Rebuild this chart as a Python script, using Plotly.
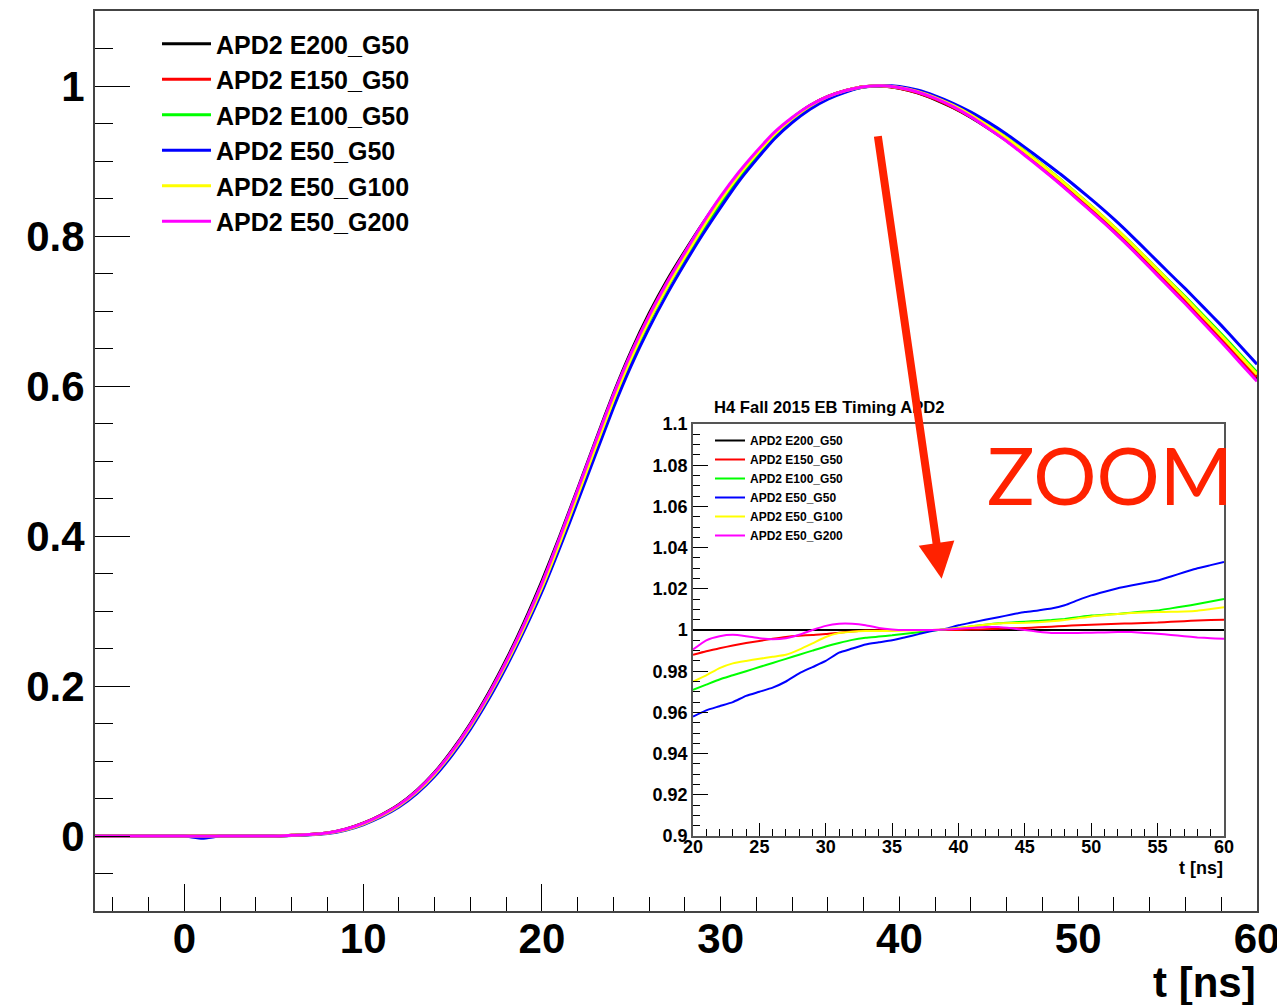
import plotly.graph_objects as go

# ---------------- data ----------------
t_main = list(range(-5, 61))  # ns

e200_g50 = [0, 0, 0, 0, 0, 0, 0, 0, 0, 0, 0,
            0.001, 0.002, 0.004, 0.009, 0.017, 0.028, 0.042, 0.061, 0.085, 0.115,
            0.150, 0.190, 0.235, 0.285,
            0.340, 0.400, 0.463, 0.527, 0.590, 0.647, 0.697, 0.741, 0.780, 0.817,
            0.851, 0.882, 0.910, 0.936, 0.957, 0.974, 0.986, 0.994, 0.999, 1.000,
            0.997, 0.991, 0.982, 0.971, 0.958, 0.943, 0.927, 0.909, 0.890, 0.870,
            0.849, 0.828, 0.806, 0.783, 0.759, 0.735, 0.711, 0.686, 0.661, 0.635,
            0.609]
e150_g50 = [0, 0, 0, 0, 0, 0, 0, 0, 0, 0, 0,
            0.001, 0.002, 0.004, 0.0088, 0.0167, 0.0276, 0.0413, 0.0600, 0.0838, 0.1134,
            0.1480, 0.1876, 0.2320, 0.2816,
            0.3359, 0.3959, 0.4589, 0.5230, 0.5863, 0.6436, 0.6940, 0.7385, 0.7778, 0.8150,
            0.8493, 0.8809, 0.9094, 0.9357, 0.9569, 0.9740, 0.9860, 0.9940, 0.9990, 1.0000,
            0.9970, 0.9912, 0.9824, 0.9716, 0.9588, 0.9439, 0.9282, 0.9105, 0.8918, 0.8720,
            0.8512, 0.8303, 0.8084, 0.7855, 0.7616, 0.7376, 0.7138, 0.6889, 0.6640, 0.6380,
            0.6120]
e100_g50 = [0, 0, 0, 0, 0, 0, 0, 0, 0, 0, 0,
            0.0008, 0.0018, 0.0036, 0.0082, 0.0157, 0.0263, 0.0399, 0.0583, 0.0818, 0.1112,
            0.1453, 0.1845, 0.2285, 0.2770,
            0.3301, 0.3894, 0.4519, 0.5154, 0.5782, 0.6354, 0.6858, 0.7306, 0.7706, 0.8088,
            0.8442, 0.8764, 0.9056, 0.9324, 0.9539, 0.9715, 0.9842, 0.9929, 0.9986, 1.0003,
            0.9980, 0.9928, 0.9846, 0.9742, 0.9615, 0.9468, 0.9311, 0.9134, 0.8948, 0.8754,
            0.8549, 0.8341, 0.8123, 0.7896, 0.7658, 0.7420, 0.7185, 0.6939, 0.6693, 0.6438,
            0.6181]
e50_g50 = [0, 0, 0, 0, 0, 0, -0.003, 0, 0, 0, 0,
           0.0007, 0.0016, 0.0033, 0.0077, 0.0150, 0.0253, 0.0386, 0.0565, 0.0796, 0.1086,
           0.1425, 0.1815, 0.2252, 0.2734,
           0.3257, 0.3844, 0.4459, 0.5086, 0.5711, 0.6276, 0.6775, 0.7225, 0.7636, 0.8023,
           0.8382, 0.8723, 0.9018, 0.9294, 0.9513, 0.9691, 0.9825, 0.9920, 0.9985, 1.0005,
           0.9993, 0.9946, 0.9869, 0.9770, 0.9652, 0.9512, 0.9358, 0.9185, 0.9007, 0.8826,
           0.8633, 0.8434, 0.8224, 0.7999, 0.7763, 0.7526, 0.7295, 0.7052, 0.6808, 0.6550,
           0.6291]
e50_g100 = [0, 0, 0, 0, 0, 0, 0, 0, 0, 0, 0,
            0.0009, 0.0019, 0.0037, 0.0084, 0.0160, 0.0267, 0.0404, 0.0588, 0.0825, 0.1120,
            0.1462, 0.1855, 0.2295, 0.2782,
            0.3315, 0.3912, 0.4544, 0.5185, 0.5812, 0.6379, 0.6879, 0.7321, 0.7726, 0.8117,
            0.8481, 0.8807, 0.9093, 0.9355, 0.9565, 0.9735, 0.9857, 0.9939, 0.9990, 1.0004,
            0.9980, 0.9928, 0.9846, 0.9741, 0.9613, 0.9463, 0.9305, 0.9128, 0.8943, 0.8750,
            0.8546, 0.8340, 0.8123, 0.7894, 0.7655, 0.7414, 0.7173, 0.6922, 0.6672, 0.6415,
            0.6157]
e50_g200 = [0, 0, 0, 0, 0, 0, 0, 0, 0, 0, 0,
            0.001, 0.002, 0.004, 0.0089, 0.0168, 0.0277, 0.0415, 0.0603, 0.0842, 0.1138,
            0.1485, 0.1881, 0.2327, 0.2822,
            0.3368, 0.3980, 0.4616, 0.5258, 0.5882, 0.6444, 0.6939, 0.7380, 0.7782, 0.8170,
            0.8527, 0.8846, 0.9127, 0.9382, 0.9580, 0.9743, 0.9860, 0.9940, 0.9990, 1.0002,
            0.9976, 0.9920, 0.9834, 0.9724, 0.9588, 0.9430, 0.9263, 0.9077, 0.8887, 0.8688,
            0.8479, 0.8270, 0.8052, 0.7822, 0.7579, 0.7337, 0.7093, 0.6839, 0.6586, 0.6325,
            0.6064]

# zoom (ratio to APD2 E200_G50), t = 20 ... 60 ns
t_zoom = list(range(20, 61))
r_e200_g50 = [1.0, 1.0, 1.0, 1.0, 1.0, 1.0, 1.0, 1.0, 1.0, 1.0,
              1.0, 1.0, 1.0, 1.0, 1.0, 1.0, 1.0, 1.0, 1.0, 1.0,
              1.0, 1.0, 1.0, 1.0, 1.0, 1.0, 1.0, 1.0, 1.0, 1.0,
              1.0, 1.0, 1.0, 1.0, 1.0, 1.0, 1.0, 1.0, 1.0, 1.0, 1.0]
r_e150_g50 = [0.988, 0.9897, 0.9911, 0.9925, 0.9937, 0.9947, 0.9957, 0.9966, 0.9972, 0.9976,
              0.998, 0.9987, 0.9993, 0.9997, 0.9999, 1.0, 1.0, 1.0, 1.0, 1.0,
              1.0, 1.0002, 1.0004, 1.0006, 1.0008, 1.001, 1.0013, 1.0016, 1.002, 1.0023,
              1.0026, 1.0028, 1.003, 1.0032, 1.0034, 1.0036, 1.004, 1.0043, 1.0046, 1.0048, 1.005]
r_e100_g50 = [0.971, 0.9735, 0.976, 0.978, 0.980, 0.982, 0.984, 0.986, 0.988, 0.990,
              0.992, 0.9937, 0.9952, 0.9962, 0.9968, 0.9974, 0.9982, 0.9989, 0.9996, 1.0003,
              1.001, 1.0018, 1.0026, 1.0033, 1.0037, 1.004, 1.0044, 1.0048, 1.0054, 1.0062,
              1.007, 1.0074, 1.0078, 1.0084, 1.009, 1.0095, 1.0105, 1.0115, 1.0126, 1.0138, 1.015]
r_e50_g50 = [0.958, 0.961, 0.963, 0.965, 0.968, 0.970, 0.972, 0.975, 0.979, 0.982,
             0.985, 0.989, 0.991, 0.993, 0.994, 0.995, 0.9965, 0.998, 0.9995, 1.0005,
             1.0023, 1.0036, 1.005, 1.0062, 1.0075, 1.0087, 1.0095, 1.0104, 1.012, 1.0145,
             1.0168, 1.0186, 1.0203, 1.0216, 1.0228, 1.024, 1.026, 1.028, 1.030, 1.0315, 1.033]
r_e50_g100 = [0.975, 0.978, 0.9815, 0.9838, 0.985, 0.986, 0.987, 0.988, 0.9905, 0.9935,
              0.9966, 0.9985, 0.9992, 0.9995, 0.9995, 0.9995, 0.9997, 0.9999, 1.0, 1.0004,
              1.001, 1.0018, 1.0026, 1.0032, 1.0034, 1.0035, 1.0038, 1.0042, 1.0048, 1.0057,
              1.0066, 1.0072, 1.0078, 1.0082, 1.0085, 1.0087, 1.0088, 1.009, 1.0094, 1.0102, 1.011]
r_e50_g200 = [0.9905, 0.995, 0.997, 0.9977, 0.997, 0.996, 0.9955, 0.996, 0.9977, 1.0,
              1.002, 1.003, 1.003, 1.0023, 1.001, 1.0003, 1.0, 1.0, 1.0, 1.0002,
              1.0006, 1.001, 1.0014, 1.0014, 1.0008, 1.0, 0.9992, 0.9986, 0.9985, 0.9986,
              0.9987, 0.9988, 0.999, 0.999, 0.9986, 0.9982, 0.9976, 0.997, 0.9964, 0.996, 0.9958]

names = ["APD2 E200_G50", "APD2 E150_G50", "APD2 E100_G50",
         "APD2 E50_G50", "APD2 E50_G100", "APD2 E50_G200"]
colors = ["#000000", "#ff0000", "#00ff00", "#0000ff", "#ffff00", "#ff00ff"]
main_series = [e200_g50, e150_g50, e100_g50, e50_g50, e50_g100, e50_g200]
zoom_series = [r_e200_g50, r_e150_g50, r_e100_g50, r_e50_g50, r_e50_g100, r_e50_g200]

main_yticks = [0, 0.2, 0.4, 0.6, 0.8, 1.0]
main_yticktext = ["0", "0.2", "0.4", "0.6", "0.8", "1"]
zoom_yticks = [0.9, 0.92, 0.94, 0.96, 0.98, 1.0, 1.02, 1.04, 1.06, 1.08, 1.1]
zoom_yticktext = ["0.9", "0.92", "0.94", "0.96", "0.98", "1", "1.02", "1.04", "1.06", "1.08", "1.1"]

# ---------------- figure ----------------
W, H = 1277, 1005
FONT = "Liberation Sans, Arial, Helvetica, sans-serif"
ACCENT = "#ff2200"

fig = go.Figure()

for name, col, ys in zip(names, colors, main_series):
    fig.add_trace(go.Scatter(
        x=t_main, y=ys, name=name, mode="lines",
        line=dict(color=col, width=3, shape="spline", smoothing=0.5),
        xaxis="x", yaxis="y", legend="legend"))

for name, col, ys in zip(names, colors, zoom_series):
    fig.add_trace(go.Scatter(
        x=t_zoom, y=ys, name=name, mode="lines",
        line=dict(color=col, width=2, shape="spline", smoothing=0.5),
        xaxis="x2", yaxis="y2", legend="legend2"))


def px_x(p):
    return p / W


def px_y(p):
    return 1 - p / H


bold = dict(family=FONT, color="black", weight="bold")

fig.update_layout(
    width=W, height=H,
    margin=dict(l=0, r=0, t=0, b=0, pad=0, autoexpand=False),
    paper_bgcolor="white", plot_bgcolor="rgba(0,0,0,0)",
    showlegend=True,
    xaxis=dict(
        domain=[px_x(95), px_x(1257)], range=[-5, 60],
        tick0=0, dtick=10, ticks="inside", ticklen=27, tickwidth=1, tickcolor="black",
        minor=dict(dtick=2, ticks="inside", ticklen=14, tickwidth=1, tickcolor="black"),
        showline=True, mirror=True, linecolor="#444444", linewidth=2,
        showgrid=False, zeroline=False, automargin=False, ticklabelstandoff=-10,
        ticklabeloverflow="allow",
        tickfont=dict(size=42, **bold), anchor="y"),
    yaxis=dict(
        domain=[px_y(911), px_y(11)], range=[-0.1, 1.1],
        tickvals=main_yticks, ticktext=main_yticktext,
        ticks="inside", ticklen=35, tickwidth=1, tickcolor="black",
        minor=dict(dtick=0.05, ticks="inside", ticklen=18, tickwidth=1, tickcolor="black"),
        showline=True, mirror=True, linecolor="#444444", linewidth=2,
        showgrid=False, zeroline=False, automargin=False,
        tickfont=dict(size=42, **bold), anchor="x"),
    xaxis2=dict(
        domain=[px_x(693), px_x(1224)], range=[20, 60],
        tick0=20, dtick=5, ticks="inside", ticklen=13, tickwidth=1, tickcolor="black",
        minor=dict(dtick=1, ticks="inside", ticklen=7, tickwidth=1, tickcolor="black"),
        showline=True, mirror=True, linecolor="#555555", linewidth=1.5,
        showgrid=False, zeroline=False, automargin=False, ticklabelstandoff=-6,
        tickfont=dict(size=18, **bold), anchor="y2"),
    yaxis2=dict(
        domain=[px_y(836), px_y(424)], range=[0.9, 1.1],
        tickvals=zoom_yticks, ticktext=zoom_yticktext,
        ticks="inside", ticklen=15, tickwidth=1, tickcolor="black",
        minor=dict(dtick=0.005, ticks="inside", ticklen=7, tickwidth=1, tickcolor="black"),
        showline=True, mirror=True, linecolor="#555555", linewidth=1.5,
        showgrid=False, zeroline=False, automargin=False,
        tickfont=dict(size=18, **bold), anchor="x2"),
    legend=dict(
        x=px_x(157), y=px_y(21), xanchor="left", yanchor="top",
        bgcolor="rgba(0,0,0,0)", borderwidth=0, itemwidth=49,
        font=dict(size=25, **bold), tracegroupgap=0),
    legend2=dict(
        x=px_x(710), y=px_y(426), xanchor="left", yanchor="top",
        bgcolor="rgba(0,0,0,0)", borderwidth=0,
        font=dict(size=12, **bold), tracegroupgap=0),
)

# white strip of the inset pad that hides the upper part of the main major x ticks
fig.add_shape(type="rect", xref="paper", yref="paper",
              x0=px_x(560), x1=px_x(1250), y0=px_y(896.5), y1=px_y(879),
              fillcolor="white", line=dict(width=0), layer="above")

annotations = [
    dict(text="H4 Fall 2015 EB Timing APD2", x=px_x(712), y=px_y(407),
         xanchor="left", yanchor="middle", font=dict(size=16.6, **bold)),
    dict(text="t [ns]", x=px_x(1225), y=px_y(868),
         xanchor="right", yanchor="middle", font=dict(size=18, **bold)),
    dict(text="t [ns]", x=px_x(1258), y=px_y(982),
         xanchor="right", yanchor="middle", font=dict(size=42, **bold)),
    dict(text="ZOOM", x=px_x(985), y=px_y(475),
         xanchor="left", yanchor="middle",
         font=dict(size=79, family="Lato, DejaVu Sans, sans-serif", color=ACCENT)),
]
for a in annotations:
    fig.add_annotation(xref="paper", yref="paper", showarrow=False, **a)

# red zoom arrow
fig.add_annotation(x=42.36, y=0.343, xref="x", yref="y",
                   ax=38.78, ay=0.935, axref="x", ayref="y",
                   text="", showarrow=True, arrowhead=2, arrowsize=0.9,
                   arrowwidth=8, arrowcolor=ACCENT)

fig.write_html("out.html", config={"displayModeBar": False},
               post_script="document.body.style.margin='0px';")
